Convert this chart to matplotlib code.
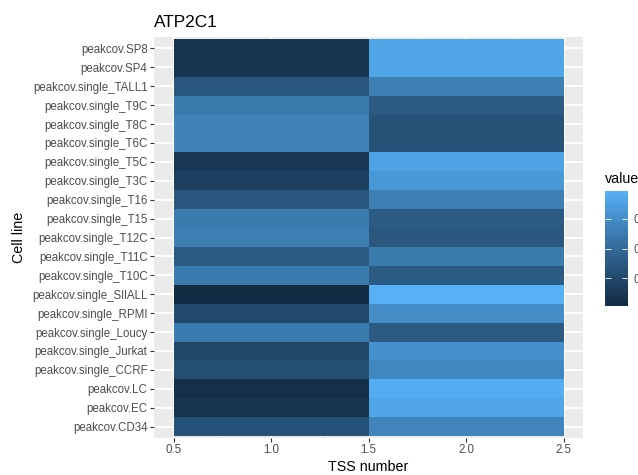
import numpy as np
import matplotlib
matplotlib.use("Agg")
import matplotlib.pyplot as plt
from matplotlib.colors import ListedColormap, Normalize

# ---------------- data ----------------
cell_lines = [
    "peakcov.SP8", "peakcov.SP4", "peakcov.single_TALL1", "peakcov.single_T9C",
    "peakcov.single_T8C", "peakcov.single_T6C", "peakcov.single_T5C",
    "peakcov.single_T3C", "peakcov.single_T16", "peakcov.single_T15",
    "peakcov.single_T12C", "peakcov.single_T11C", "peakcov.single_T10C",
    "peakcov.single_SIlALL", "peakcov.single_RPMI", "peakcov.single_Loucy",
    "peakcov.single_Jurkat", "peakcov.single_CCRF", "peakcov.LC", "peakcov.EC",
    "peakcov.CD34",
]
tss_numbers = [1, 2]
value_tss1 = [0.10, 0.10, 0.36, 0.62, 0.67, 0.67, 0.12, 0.19, 0.36, 0.62,
              0.64, 0.38, 0.62, 0.02, 0.26, 0.62, 0.24, 0.30, 0.05, 0.10, 0.32]
value_tss2 = [0.90, 0.90, 0.64, 0.38, 0.33, 0.33, 0.88, 0.81, 0.64, 0.38,
              0.36, 0.62, 0.38, 0.98, 0.74, 0.38, 0.76, 0.70, 0.95, 0.90, 0.68]
x_ticks = [0.5, 1.0, 1.5, 2.0, 2.5]
legend_breaks = [0.25, 0.50, 0.75]
title = "ATP2C1"

# ---------------- ggplot-like gradient (Lab interpolation) ----------------
def srgb_to_lab(rgb):
    rgb = np.asarray(rgb, float)
    lin = np.where(rgb <= 0.04045, rgb / 12.92, ((rgb + 0.055) / 1.055) ** 2.4)
    M = np.array([[0.4124, 0.3576, 0.1805],
                  [0.2126, 0.7152, 0.0722],
                  [0.0193, 0.1192, 0.9505]])
    xyz = lin @ M.T
    wp = np.array([0.95047, 1.0, 1.08883])
    t = xyz / wp
    f = np.where(t > (6 / 29) ** 3, np.cbrt(t), t / (3 * (6 / 29) ** 2) + 4 / 29)
    L = 116 * f[..., 1] - 16
    a = 500 * (f[..., 0] - f[..., 1])
    b = 200 * (f[..., 1] - f[..., 2])
    return np.stack([L, a, b], -1)

def lab_to_srgb(lab):
    lab = np.asarray(lab, float)
    fy = (lab[..., 0] + 16) / 116
    fx = fy + lab[..., 1] / 500
    fz = fy - lab[..., 2] / 200
    f = np.stack([fx, fy, fz], -1)
    t = np.where(f > 6 / 29, f ** 3, 3 * (6 / 29) ** 2 * (f - 4 / 29))
    xyz = t * np.array([0.95047, 1.0, 1.08883])
    Minv = np.array([[3.2406, -1.5372, -0.4986],
                     [-0.9689, 1.8758, 0.0415],
                     [0.0557, -0.2040, 1.0570]])
    lin = xyz @ Minv.T
    lin = np.clip(lin, 0, 1)
    rgb = np.where(lin <= 0.0031308, 12.92 * lin, 1.055 * lin ** (1 / 2.4) - 0.055)
    return np.clip(rgb, 0, 1)

low = np.array([0x13, 0x2B, 0x43]) / 255
high = np.array([0x56, 0xB1, 0xF7]) / 255
lab_lo, lab_hi = srgb_to_lab(low), srgb_to_lab(high)
tt = np.linspace(0, 1, 256)[:, None]
cmap = ListedColormap(lab_to_srgb(lab_lo + (lab_hi - lab_lo) * tt))

# ---------------- figure ----------------
W, H = 638, 475
fig = plt.figure(figsize=(W / 100, H / 100), dpi=100)
plt.rcParams['font.family'] = ['Liberation Sans', 'DejaVu Sans']

pl, pr, pt, pb = 154, 583, 37, 438
ax = fig.add_axes([pl / W, 1 - pb / H, (pr - pl) / W, (pb - pt) / H])
ax.set_facecolor("#EBEBEB")
for s in ax.spines.values():
    s.set_visible(False)

n = len(cell_lines)
vals = np.array([value_tss1, value_tss2]).T  # rows x cols
data = vals[::-1]
vmin, vmax = vals.min(), vals.max()
norm = Normalize(vmin=vmin, vmax=vmax)

x_edges = np.array([t - 0.5 for t in tss_numbers] + [tss_numbers[-1] + 0.5])
y_edges = np.arange(n + 1) - 0.5

ax.set_xlim(0.4, 2.6)
ax.set_ylim(-0.6, n - 1 + 0.6)

# grid
ax.set_xticks(x_ticks)
ax.set_xticks([0.75, 1.25, 1.75, 2.25], minor=True)
ax.set_yticks(np.arange(n))
ax.set_yticklabels(cell_lines[::-1])
ax.grid(which="major", color="white", linewidth=1.3)
ax.grid(which="minor", axis="x", color="white", linewidth=0.65)
ax.set_axisbelow(True)

mesh = ax.pcolormesh(x_edges, y_edges, data, cmap=cmap, norm=norm, zorder=2)

ax.set_xticklabels([f"{v:.1f}" for v in x_ticks])
ax.tick_params(axis="both", which="major", length=2.6, width=0.8, color="#333333",
               labelcolor="#4D4D4D", labelsize=8.3, pad=2)
ax.tick_params(axis="both", which="minor", length=0)

fig.text(pl / W, 1 - 27 / H, title, fontsize=12.4, ha="left", va="baseline", color="black")
fig.text((pl + pr) / 2 / W, 1 - 471 / H, "TSS number", fontsize=10.3, ha="center",
         va="baseline", color="black")
fig.text(19 / W, 1 - (pt + pb) / 2 / H, "Cell line", fontsize=10.3, rotation=90,
         ha="center", va="center", color="black")

# colorbar legend
cax = fig.add_axes([605 / W, 1 - 306 / H, 23 / W, 115 / H])
cb = fig.colorbar(mesh, cax=cax, ticks=legend_breaks)
cb.outline.set_visible(False)
cb.ax.set_yticklabels([f"{b:.2f}" for b in legend_breaks])
cax.tick_params(which="both", direction="in", color="white", length=4.6, width=0.6,
                left=True, right=True, labelsize=8.3, labelcolor="#4D4D4D", pad=4)
cax.minorticks_off()
fig.text(605 / W, 1 - 183 / H, "value", fontsize=10.3, ha="left", va="baseline", color="black")

fig.savefig("out.png", dpi=100)
